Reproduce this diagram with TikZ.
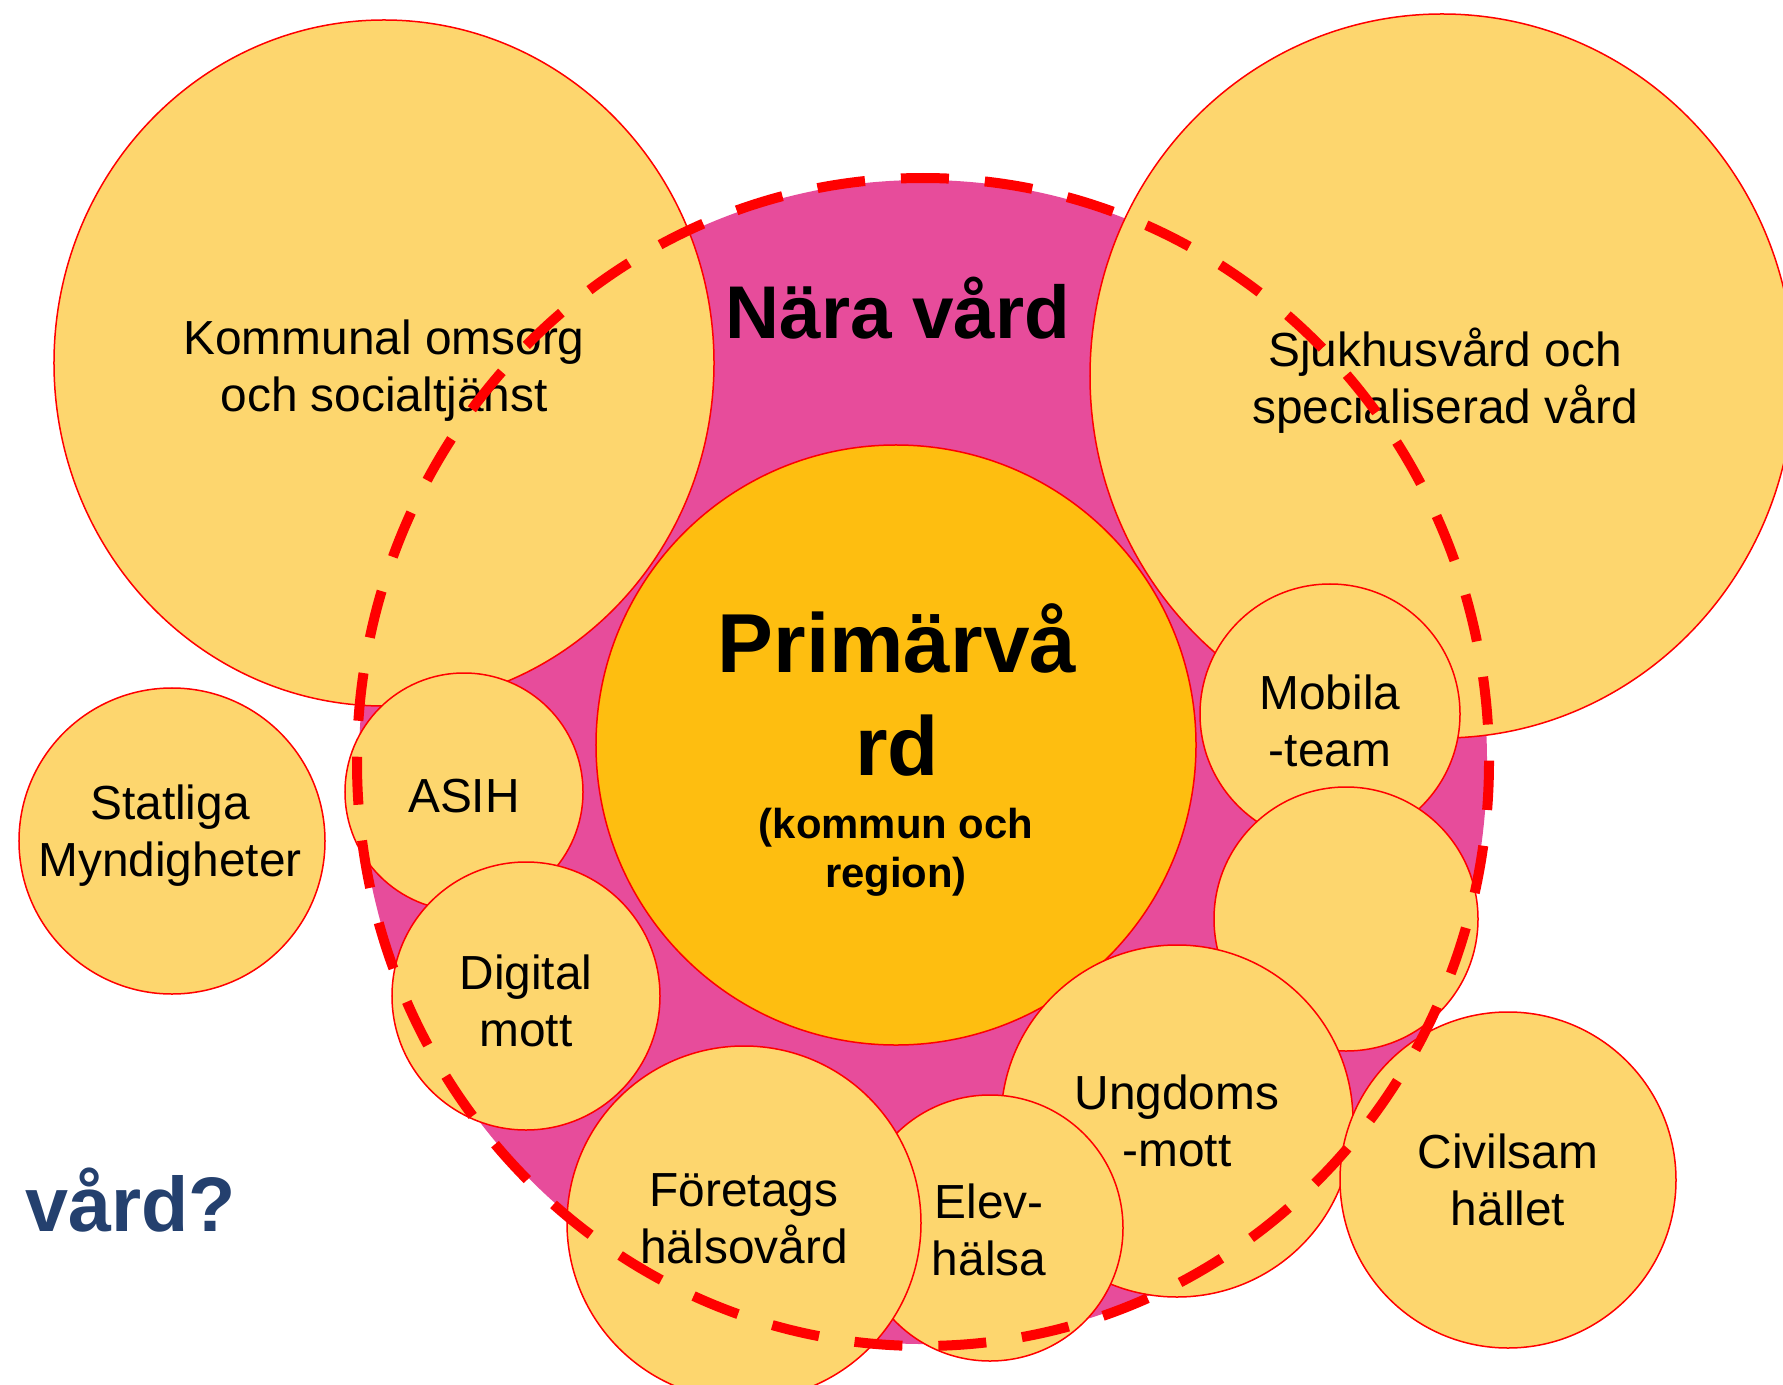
\documentclass[tikz,border=0pt]{standalone}
\usepackage{fontspec}
\setmainfont{Liberation Sans}
\usepackage{tikz}
\usetikzlibrary{shapes.geometric}

\definecolor{nararosa}{RGB}{231,76,155}
\definecolor{ljusgul}{RGB}{253,214,110}
\definecolor{primgul}{RGB}{254,190,16}
\definecolor{rubrikbla}{RGB}{36,64,110}

\begin{document}
\begin{tikzpicture}
[x=0.5bp,y=-0.5bp,
  area node/.style={ellipse,fill=nararosa,inner sep=0pt},
  bubble node/.style={ellipse,draw=red,line width=0.75bp,fill=ljusgul,inner sep=0pt},
  core node/.style={bubble node,fill=primgul},
  bubble text/.style={align=center,font=\fontsize{24}{28.5}\selectfont},
  title text/.style={font=\fontsize{37.5}{45}\selectfont\bfseries},
  border line/.style={draw=red,line width=5bp,dash pattern=on 24bp off 18bp}]

  \useasboundingbox (0,0) rectangle (1783,1385);

  % ytan for nara vard
  \node [area node,minimum width=564bp,minimum height=582bp] (nara) at (923,762) {};

  % cirklarna
  \node [bubble node,minimum width=330bp,minimum height=343bp] (kommunal) at (384,363) {};
  \node [bubble node,minimum width=352bp,minimum height=362bp] (sjukhus) at (1442,376) {};
  \node [core node,minimum size=300bp] (primar) at (896,745) {};
  \node [bubble node,minimum size=153bp] (statliga) at (172,841) {};
  \node [bubble node,minimum size=130bp] (mobila) at (1330,714) {};
  \node [bubble node,minimum size=132bp] (tom) at (1346,919) {};
  \node [bubble node,minimum size=119bp] (asih) at (464,792) {};
  \node [bubble node,minimum size=134bp] (digital) at (526,996) {};
  \node [bubble node,minimum size=176bp] (ungdoms) at (1177,1121) {};
  \node [bubble node,minimum size=133bp] (elev) at (990,1228) {};
  \node [bubble node,minimum size=177bp] (foretags) at (744,1223) {};
  \node [bubble node,minimum size=168bp] (civil) at (1508,1180) {};

  % texterna
  \node [bubble text] (kommunal text) at (384,371) {Kommunal omsorg\\och socialtjänst};
  \node [bubble text] (sjukhus text) at (1445,381) {Sjukhusvård och\\specialiserad vård};
  \node [bubble text] (statliga text) at (170,836) {Statliga\\Myndigheter};
  \node [bubble text] (mobila text) at (1330,721) {Mobila\\-team};
  \node [bubble text] (asih text) at (464,796) {ASIH};
  \node [bubble text] (digital text) at (526,1001) {Digital\\mott};
  \node [bubble text] (ungdoms text) at (ungdoms) {Ungdoms\\-mott};
  \node [bubble text] (elev text) at (989,1230) {Elev-\\hälsa};
  \node [bubble text] (foretags text) at (744,1219) {Företags\\hälsovård};
  \node [bubble text] (civil text) at (civil) {Civilsam\\hället};

  \node [font=\fontsize{42}{52}\selectfont\bfseries,align=center] (primar titel) at (897,690) {Primärvå\\rd};
  \node [font=\fontsize{21}{24.5}\selectfont\bfseries,align=center] (primar under) at (896,852) {(kommun och\\region)};
  \node [title text,anchor=base] (nara titel) at (898,338) {Nära vård};
  \node [title text,font=\fontsize{38.8}{46}\selectfont\bfseries,text=rubrikbla,anchor=base west] (fraga) at (18,1231) {vård?};

  % streckad grans
  \draw [border line] (nara.center) ellipse [x radius=566,y radius=584];

\end{tikzpicture}
\end{document}
